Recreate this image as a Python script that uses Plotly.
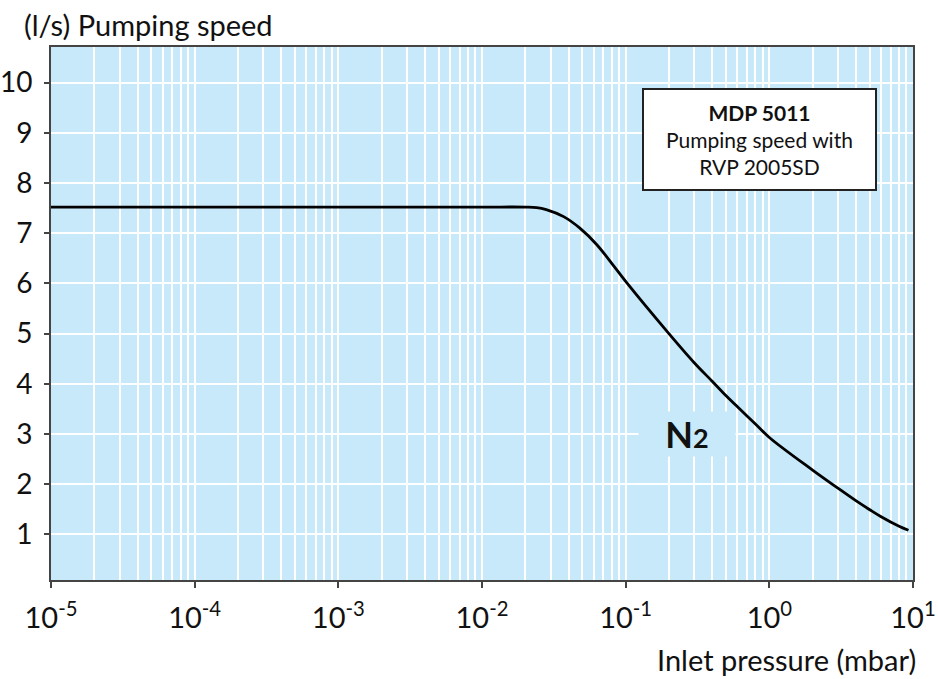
import plotly.graph_objects as go

# Data
pressure_mbar = [1e-5, 1e-4, 1e-3, 0.01, 0.02, 0.024, 0.028, 0.037, 0.048, 0.063, 0.082,
                 0.1, 0.2, 0.3, 0.4, 0.5, 0.6, 0.8, 1.0, 2.0, 3.0, 4.0, 5.0, 6.0, 8.0, 9.3]
speed_ls = [7.52, 7.52, 7.52, 7.52, 7.52, 7.51, 7.47, 7.33, 7.10, 6.77, 6.36,
            6.04, 5.00, 4.42, 4.05, 3.76, 3.54, 3.20, 2.93, 2.28, 1.92, 1.67, 1.49, 1.35, 1.16, 1.08]
x_decades = [-5, -4, -3, -2, -1, 0, 1]
x_tick_labels = ["10<sup>-5</sup>", "10<sup>-4</sup>", "10<sup>-3</sup>", "10<sup>-2</sup>",
                 "10<sup>-1</sup>", "10<sup>0</sup>", "10<sup>1</sup>"]
y_ticks = [1, 2, 3, 4, 5, 6, 7, 8, 9, 10]

FONT = "Lato, 'Open Sans', sans-serif"
BG = "#c8e9f9"
AXC = "#444444"
TXT = "#111111"

minor_vals = [m * 10 ** d for d in x_decades[:-1] for m in range(2, 10)]

fig = go.Figure()
fig.add_trace(go.Scatter(
    x=pressure_mbar, y=speed_ls, mode="lines",
    line=dict(color="black", width=2.8, shape="spline", smoothing=1.0),
    showlegend=False, hoverinfo="skip"))

fig.update_layout(
    width=938, height=679,
    margin=dict(l=51, r=25, t=47, b=99, autoexpand=False),
    paper_bgcolor="white", plot_bgcolor=BG,
    font=dict(family=FONT, color=TXT),
    xaxis=dict(
        type="log", range=[-5, 1], automargin=False,
        tickvals=[10 ** d for d in x_decades], ticktext=x_tick_labels,
        ticks="outside", ticklen=6, tickwidth=1.5, tickcolor=AXC,
        tickfont=dict(size=29, family=FONT, color=TXT),
        ticklabelstandoff=5,
        showgrid=True, gridcolor="white", gridwidth=1.5,
        minor=dict(tickvals=minor_vals, showgrid=True, gridcolor="white", gridwidth=1.5, ticks=""),
        showline=True, linecolor=AXC, linewidth=2, mirror=True, zeroline=False,
    ),
    yaxis=dict(
        range=[0.09, 10.71], automargin=False,
        tickvals=y_ticks,
        ticks="outside", ticklen=5, tickwidth=1.5, tickcolor=AXC,
        tickfont=dict(size=28, family=FONT, color=TXT),
        ticklabelstandoff=6,
        showgrid=True, gridcolor="white", gridwidth=1.5,
        showline=True, linecolor=AXC, linewidth=2, mirror=True, zeroline=False,
    ),
    annotations=[
        dict(text="(l/s) Pumping speed", xref="paper", yref="paper",
             x=-0.0336, y=1.043, xanchor="left", yanchor="middle",
             showarrow=False, font=dict(size=29, family=FONT, color=TXT)),
        dict(text="Inlet pressure (mbar)", xref="paper", yref="paper",
             x=1.0, xshift=5, y=-0.150, xanchor="right", yanchor="middle",
             showarrow=False, font=dict(size=29, family=FONT, color=TXT)),
        dict(text="<b>MDP 5011</b><br>Pumping speed with<br>RVP 2005SD",
             xref="paper", yref="paper", x=0.822, y=0.826,
             xanchor="center", yanchor="middle", showarrow=False,
             width=223, height=91,
             bgcolor="white", bordercolor="#222222", borderwidth=2, borderpad=4,
             align="center", font=dict(size=21, family=FONT, color=TXT)),
        dict(text="<b>N<span style='font-size:27px'>2</span></b>", x=-0.57, y=3.0,
             xref="x", yref="y", xanchor="center", yanchor="middle", showarrow=False,
             width=84, height=32, bgcolor=BG, borderpad=6,
             font=dict(size=36, family=FONT, color=TXT)),
    ],
)

# remove the browser's default 8px body margin so the figure fills the window exactly
fig.write_html("out.html", config={"displayModeBar": False},
               post_script="document.body.style.margin='0';document.body.style.overflow='hidden';")
